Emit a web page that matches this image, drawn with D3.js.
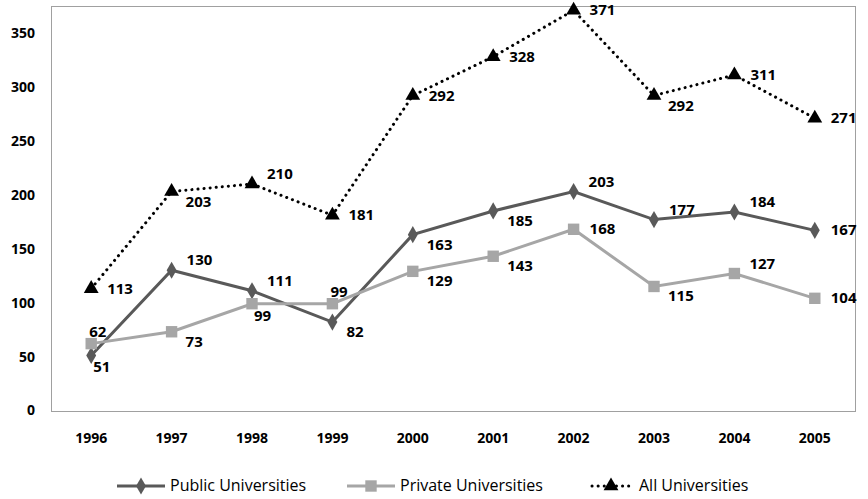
<!DOCTYPE html>
<html>
<head>
<meta charset="utf-8">
<script src="https://cdn.jsdelivr.net/npm/d3@7"></script>
<style>
  body { margin: 0; background: #fff; }
  svg { display: block; font-family: "Open Sans", "Noto Sans", sans-serif; }
</style>
</head>
<body>
<svg id="chart" width="868" height="499"></svg>
<script>
const years = ['1996', '1997', '1998', '1999', '2000', '2001', '2002', '2003', '2004', '2005'];
const publicUni = [51, 130, 111, 82, 163, 185, 203, 177, 184, 167];
const privateUni = [62, 73, 99, 99, 129, 143, 168, 115, 127, 104];
const allUni = [113, 203, 210, 181, 292, 328, 371, 292, 311, 271];
const yTicks = [0, 50, 100, 150, 200, 250, 300, 350];

// where each data label sits relative to its point
const publicPos = ['b', 'ra', 'ra', 'rb', 'rb', 'rb', 'ra', 'ra', 'ra', 'r'];
const privatePos = ['a', 'rb', 'b', 'a', 'rb', 'rb', 'r', 'rb', 'ra', 'r'];
const allPos = ['r', 'rb', 'ra', 'r', 'r', 'r', 'r', 'rb', 'r', 'r'];

const series = [
  { name: 'Public Universities', values: publicUni, pos: publicPos, color: '#595959', width: 3, dash: null, marker: 'diamond' },
  { name: 'Private Universities', values: privateUni, pos: privatePos, color: '#a6a6a6', width: 3, dash: null, marker: 'square' },
  { name: 'All Universities', values: allUni, pos: allPos, color: '#000000', width: 3, dash: '0.1 6', marker: 'triangle' }
];

const margin = { top: 6, right: 13, bottom: 88, left: 51 };
const svg = d3.select('#chart');
const width = +svg.attr('width');
const height = +svg.attr('height');

const x = d3.scaleBand()
  .domain(years)
  .range([margin.left, width - margin.right]);

const y = d3.scaleLinear()
  .domain([0, 375])
  .range([height - margin.bottom - 0.5, margin.top]);

const cx = d => x(d) + x.bandwidth() / 2;

// plot border
svg.append('rect')
  .attr('x', margin.left + 0.5)
  .attr('y', margin.top + 0.5)
  .attr('width', width - margin.left - margin.right)
  .attr('height', height - margin.top - margin.bottom)
  .attr('fill', 'none')
  .attr('stroke', '#a0a0a0');

svg.append('g')
  .attr('transform', `translate(${margin.left},0)`)
  .call(d3.axisLeft(y).tickValues(yTicks).tickSize(0).tickPadding(16))
  .call(g => g.select('.domain').remove())
  .call(g => g.selectAll('text')
    .attr('font-family', '"Open Sans", sans-serif')
    .attr('font-size', 14)
    .attr('font-weight', 'bold')
    .attr('fill', '#000'));

svg.append('g')
  .attr('transform', `translate(0,${height - margin.bottom})`)
  .call(d3.axisBottom(x).tickSize(0).tickPadding(22))
  .call(g => g.select('.domain').remove())
  .call(g => g.selectAll('text')
    .attr('font-family', '"Open Sans", sans-serif')
    .attr('font-size', 14)
    .attr('font-weight', 'bold')
    .attr('fill', '#000'));

const symbolFor = {
  diamond: d3.symbol().type(d3.symbolDiamond).size(85),
  square: d3.symbol().type(d3.symbolSquare).size(130),
  triangle: d3.symbol().type(d3.symbolTriangle).size(95)
};

const line = d3.line()
  .x((d, i) => cx(years[i]))
  .y(d => y(d));

const offsets = {
  r: [16, 5],
  ra: [15, -5],
  rb: [14, 15],
  a: [-2, -7],
  b: [2, 17]
};

series.forEach(s => {
  const g = svg.append('g');
  g.append('path')
    .datum(s.values)
    .attr('fill', 'none')
    .attr('stroke', s.color)
    .attr('stroke-width', s.width)
    .attr('stroke-linecap', s.dash ? 'round' : 'butt')
    .attr('stroke-dasharray', s.dash)
    .attr('d', line);

  g.selectAll('path.mark')
    .data(s.values)
    .enter().append('path')
    .attr('class', 'mark')
    .attr('transform', (d, i) => `translate(${cx(years[i])},${y(d)})`)
    .attr('d', symbolFor[s.marker])
    .attr('fill', s.color);
});

series.forEach(s => {
  svg.append('g')
    .selectAll('text')
    .data(s.values)
    .enter().append('text')
    .attr('x', (d, i) => cx(years[i]) + offsets[s.pos[i]][0])
    .attr('y', (d, i) => y(d) + offsets[s.pos[i]][1])
    .attr('font-size', 15)
    .attr('font-weight', 'bold')
    .attr('fill', '#000')
    .text(d => d);
});

// legend
const legendX = [117, 347, 592];
const legend = svg.append('g').attr('transform', `translate(0,${height - 8})`);
series.forEach((s, i) => {
  const lg = legend.append('g').attr('transform', `translate(${legendX[i]},0)`);
  lg.append('line')
    .attr('x1', 0).attr('x2', s.dash ? 42 : 48)
    .attr('y1', -5).attr('y2', -5)
    .attr('stroke', s.color)
    .attr('stroke-width', s.width)
    .attr('stroke-linecap', s.dash ? 'round' : 'butt')
    .attr('stroke-dasharray', s.dash);
  lg.append('path')
    .attr('transform', `translate(${s.marker === 'triangle' ? 19 : 24},-5)`)
    .attr('d', symbolFor[s.marker])
    .attr('fill', s.color);
  lg.append('text')
    .attr('x', s.dash ? 47 : 53)
    .attr('y', 0)
    .attr('font-size', 16)
    .attr('fill', '#000')
    .text(s.name);
});
</script>
</body>
</html>
